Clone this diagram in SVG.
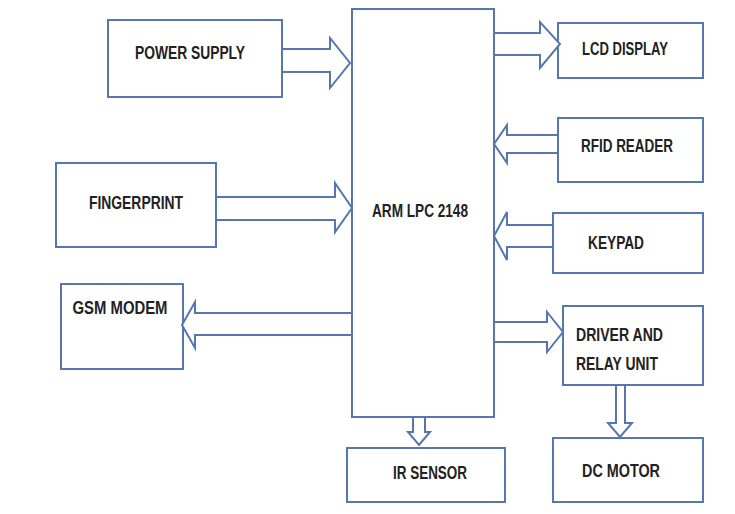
<svg xmlns="http://www.w3.org/2000/svg" width="735" height="514" viewBox="0 0 735 514">
<style>
.box{fill:#fff;stroke:#5676b0;stroke-width:2}
.arr{fill:#fff;stroke:#5676b0;stroke-width:2;stroke-linejoin:miter}
.t{font-family:"Liberation Sans",Arial,sans-serif;font-weight:bold;font-size:18px;fill:#222}
.m{text-anchor:middle}
</style>
<rect width="735" height="514" fill="#fff"/>
<g id="power"><rect class="box" x="108" y="20" width="174" height="77"/><text class="t m" x="190" y="59" textLength="110" lengthAdjust="spacingAndGlyphs">POWER SUPPLY</text></g>
<g id="fingerprint"><rect class="box" x="56" y="163" width="160" height="84"/><text class="t m" x="136" y="209" textLength="94" lengthAdjust="spacingAndGlyphs">FINGERPRINT</text></g>
<g id="gsm"><rect class="box" x="61" y="284" width="122" height="85"/><text class="t m" x="120" y="314" textLength="95" lengthAdjust="spacingAndGlyphs">GSM MODEM</text></g>
<g id="arm"><rect class="box" x="352" y="9" width="142" height="408"/><text class="t m" x="420" y="217" textLength="96" lengthAdjust="spacingAndGlyphs">ARM LPC 2148</text></g>
<g id="lcd"><rect class="box" x="558" y="23" width="145" height="55"/><text class="t m" x="625" y="55" textLength="86" lengthAdjust="spacingAndGlyphs">LCD DISPLAY</text></g>
<g id="rfid"><rect class="box" x="558" y="118" width="145" height="64"/><text class="t m" x="627" y="152" textLength="92" lengthAdjust="spacingAndGlyphs">RFID READER</text></g>
<g id="keypad"><rect class="box" x="553" y="213" width="150" height="60"/><text class="t m" x="616" y="249" textLength="56" lengthAdjust="spacingAndGlyphs">KEYPAD</text></g>
<g id="driver"><rect class="box" x="563" y="306" width="140" height="79"/><text class="t" x="576" y="341" textLength="87" lengthAdjust="spacingAndGlyphs">DRIVER AND</text><text class="t" x="576" y="370" textLength="82" lengthAdjust="spacingAndGlyphs">RELAY UNIT</text></g>
<g id="dcmotor"><rect class="box" x="553" y="438" width="150" height="64"/><text class="t m" x="621" y="477" textLength="78" lengthAdjust="spacingAndGlyphs">DC MOTOR</text></g>
<g id="ir"><rect class="box" x="347" y="448" width="158" height="54"/><text class="t m" x="430" y="479" textLength="74" lengthAdjust="spacingAndGlyphs">IR SENSOR</text></g>
<g id="connectors">
<polygon class="arr" points="282,49 330,49 330,38 350,63 330,88 330,72 282,72"/>
<polygon class="arr" points="216,197 335,197 335,183 352,208 335,232 335,220 216,220"/>
<polygon class="arr" points="352,313 195,313 195,302 182,325 195,348 195,335 352,335"/>
<polygon class="arr" points="494,33 540,33 540,22 560,44 540,68 540,55 494,55"/>
<polygon class="arr" points="558,135 507,135 507,125 494,144 507,163 507,153 558,153"/>
<polygon class="arr" points="553,225 507,225 507,212 494,236 507,260 507,247 553,247"/>
<polygon class="arr" points="494,322 547,322 547,312 563,332 547,352 547,342 494,342"/>
<polygon class="arr" points="616,385 616,423 608,423 620,437 632,423 625,423 625,385"/>
<polygon class="arr" points="413,417 413,432 408,432 419,445 430,432 425,432 425,417"/>
</g>
</svg>
